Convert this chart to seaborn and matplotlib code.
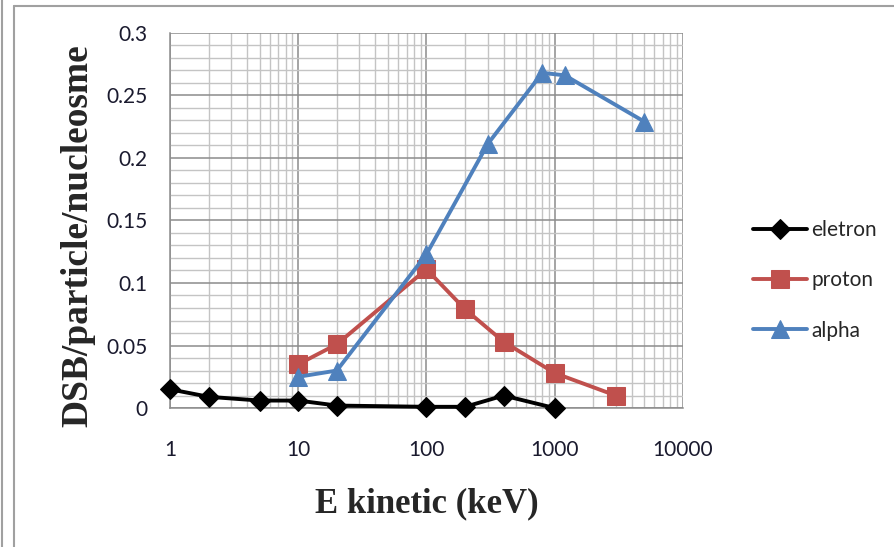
import matplotlib
matplotlib.use("Agg")
import matplotlib.pyplot as plt
from matplotlib.lines import Line2D
from matplotlib.ticker import FixedLocator, FuncFormatter, LogLocator, MultipleLocator
import numpy as np
import pandas as pd
import seaborn as sns

# energia cinetica (keV) e DSB por particula por nucleossomo
e_eletron = [1, 2, 5, 10, 20, 100, 200, 400, 1000]
dsb_eletron = [0.015, 0.009, 0.006, 0.006, 0.002, 0.001, 0.001, 0.010, 0.000]

e_proton = [10, 20, 100, 200, 400, 1000, 3000]
dsb_proton = [0.035, 0.051, 0.111, 0.079, 0.053, 0.028, 0.010]

e_alpha = [10, 20, 100, 300, 800, 1200, 5000]
dsb_alpha = [0.025, 0.030, 0.123, 0.211, 0.268, 0.266, 0.229]

x_ticks = [1, 10, 100, 1000, 10000]
y_ticks = [0, 0.05, 0.1, 0.15, 0.2, 0.25, 0.3]

df = pd.concat([
    pd.DataFrame({"E": e_eletron, "DSB": dsb_eletron, "serie": "eletron"}),
    pd.DataFrame({"E": e_proton, "DSB": dsb_proton, "serie": "proton"}),
    pd.DataFrame({"E": e_alpha, "DSB": dsb_alpha, "serie": "alpha"}),
])

sns.set_style("white")
plt.rcParams['font.family'] = ['Lato', 'DejaVu Sans']

fig = plt.figure(figsize=(8.95, 5.47), dpi=100)
ax = fig.add_axes([0.190, 0.254, 0.573, 0.686])

cores = {"eletron": "black", "proton": "#C0504D", "alpha": "#4F81BD"}
marcadores = {"eletron": "D", "proton": "s", "alpha": "^"}
tamanhos = {"eletron": 10, "proton": 12.5, "alpha": 13}

for nome in ["eletron", "proton", "alpha"]:
    sub = df[df["serie"] == nome]
    sns.lineplot(data=sub, x="E", y="DSB", ax=ax, color=cores[nome],
                 marker=marcadores[nome], markersize=tamanhos[nome],
                 markeredgecolor=cores[nome], linewidth=2.8, label=nome,
                 zorder=3, clip_on=False)

ax.set_xscale("log")
ax.set_xlim(1, 10000)
ax.set_ylim(0, 0.3)
ax.xaxis.set_major_locator(FixedLocator(x_ticks))
ax.xaxis.set_minor_locator(LogLocator(base=10, subs=np.arange(2, 10)))
ax.xaxis.set_major_formatter(FuncFormatter(lambda v, p: f"{v:g}"))
ax.xaxis.set_minor_formatter(FuncFormatter(lambda v, p: ""))
ax.yaxis.set_major_locator(FixedLocator(y_ticks))
ax.yaxis.set_minor_locator(MultipleLocator(0.01))
ax.yaxis.set_major_formatter(FuncFormatter(lambda v, p: f"{v:g}"))

ax.grid(which="major", color="#8c8c8c", linewidth=1.1)
ax.grid(which="minor", color="#c4c4c4", linewidth=1.0)
ax.set_axisbelow(True)
for s in ["top", "right"]:
    ax.spines[s].set_visible(False)
for s in ["left", "bottom"]:
    ax.spines[s].set_color("#8c8c8c")
    ax.spines[s].set_linewidth(1.1)

ax.tick_params(which="major", length=7, width=1.1, color="#8c8c8c",
               labelsize=15, labelcolor="#1a1a2e", pad=9)
ax.tick_params(axis="x", which="major", pad=16)
ax.tick_params(which="minor", length=0)

ax.set_xlabel("E kinetic (keV)", fontsize=25, fontweight="bold",
              family="Liberation Serif", labelpad=20)
ax.set_ylabel("DSB/particle/nucleosme", fontsize=27, fontweight="bold",
              family="Liberation Serif", labelpad=8)
ax.yaxis.label.set_y(0.46)

leg = ax.legend(loc="center left", bbox_to_anchor=(1.12, 0.34), frameon=False,
                fontsize=15, handlelength=2.6, handletextpad=0.2,
                labelspacing=1.45, borderaxespad=0)

# molduras cinzas do grafico
fig.add_artist(Line2D([2.5 / 895, 2.5 / 895], [0, 1], color="#a0a0a0", lw=1.5))
fig.add_artist(Line2D([14.5 / 895, 14.5 / 895], [0, 1 - 6 / 547], color="#a0a0a0", lw=1.5))
fig.add_artist(Line2D([14.5 / 895, 1], [1 - 6 / 547, 1 - 6 / 547], color="#a0a0a0", lw=1.5))

fig.savefig("out.png", dpi=100)
